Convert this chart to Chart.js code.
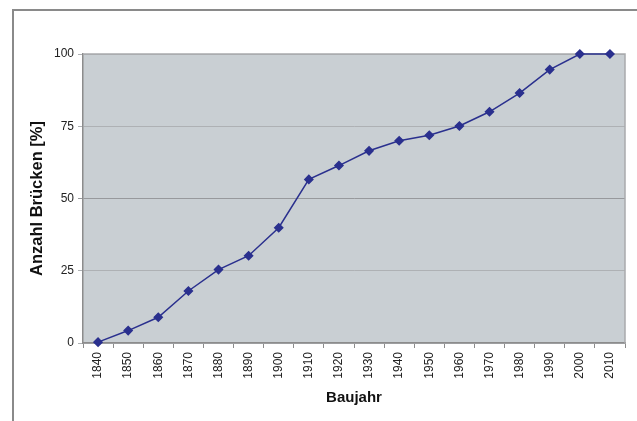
<!DOCTYPE html>
<html>
<head>
<meta charset="utf-8">
<script src="https://cdn.jsdelivr.net/npm/chart.js@4"></script>
<style>
  html, body { margin: 0; padding: 0; background: #ffffff; }
  #wrap { position: relative; width: 637px; height: 421px; overflow: hidden; }
  #frame { position: absolute; left: 12px; top: 9px; width: 700px; height: 500px;
           border-top: 2px solid #8a8a8a; border-left: 2px solid #8a8a8a; }
  canvas { position: absolute; left: 0; top: 0; }
</style>
</head>
<body>
<div id="wrap">
  <div id="frame"></div>
  <canvas id="chart" width="637" height="421"></canvas>
</div>
<script>
// Baujahr (construction decade) and cumulative share of bridges in percent
const years = ['1840','1850','1860','1870','1880','1890','1900','1910','1920',
               '1930','1940','1950','1960','1970','1980','1990','2000','2010'];
const shareBuilt = [0.3, 4.3, 8.9, 18.0, 25.4, 30.2, 39.9, 56.6, 61.4,
                    66.5, 70.0, 71.9, 75.1, 80.0, 86.5, 94.6, 100, 100];
const yTicks = [0, 25, 50, 75, 100];

const FONT = 'Liberation Sans, Arial, Helvetica, sans-serif';

// grey plot background with a thin border on top and right
const plotArea = {
  id: 'plotArea',
  beforeDraw(chart) {
    const { ctx, chartArea: a } = chart;
    ctx.save();
    ctx.fillStyle = '#c9cfd3';
    ctx.fillRect(a.left, a.top, a.right - a.left, a.bottom - a.top);
    ctx.restore();
  },
  beforeDatasetsDraw(chart) {
    const { ctx, chartArea: a } = chart;
    ctx.save();
    ctx.strokeStyle = '#a9abad';
    ctx.lineWidth = 1.5;
    ctx.beginPath();
    ctx.moveTo(a.left, a.top);
    ctx.lineTo(a.right, a.top);
    ctx.lineTo(a.right, a.bottom);
    ctx.stroke();
    ctx.restore();
  }
};

new Chart(document.getElementById('chart'), {
  type: 'line',
  data: {
    labels: years,
    datasets: [{
      data: shareBuilt,
      borderColor: '#2a308e',
      backgroundColor: '#2a308e',
      borderWidth: 1.5,
      pointStyle: 'rectRot',
      pointRadius: 4,
      pointHoverRadius: 4,
      tension: 0,
      fill: false,
      clip: false
    }]
  },
  options: {
    responsive: false,
    animation: false,
    events: [],
    layout: { padding: { top: 54, right: 12, left: 0, bottom: 0 } },
    plugins: { legend: { display: false }, tooltip: { enabled: false } },
    scales: {
      x: {
        offset: true,
        afterFit(scale) { scale.height = 78; },
        grid: { offset: true, drawOnChartArea: false, drawTicks: true, tickLength: 5, color: '#8c8c8c' },
        border: { color: '#8c8c8c', width: 1.5 },
        ticks: { minRotation: 90, maxRotation: 90, autoSkip: false, padding: 4,
                 color: '#222222', font: { family: FONT, size: 12 } },
        title: { display: true, text: 'Baujahr', color: '#111111',
                 font: { family: FONT, size: 15, weight: 'bold' },
                 padding: { top: 0, bottom: 14 } }
      },
      y: {
        min: 0, max: 100,
        afterFit(scale) { scale.width = 83; },
        afterBuildTicks(scale) { scale.ticks = yTicks.map(v => ({ value: v })); },
        grid: {
          drawTicks: true, tickLength: 5,
          color: ctx => ctx.tick && ctx.tick.value === 50 ? '#97999c' : '#aeb1b4',
          lineWidth: 1
        },
        border: { color: '#8c8c8c', width: 1.5 },
        ticks: { padding: 4, color: '#222222', font: { family: FONT, size: 12 } },
        title: { display: true, text: 'Anzahl Brücken [%]', color: '#111111',
                 font: { family: FONT, size: 16.5, weight: 'bold' },
                 padding: { top: 28, bottom: 0 } }
      }
    }
  },
  plugins: [plotArea]
});
</script>
</body>
</html>
